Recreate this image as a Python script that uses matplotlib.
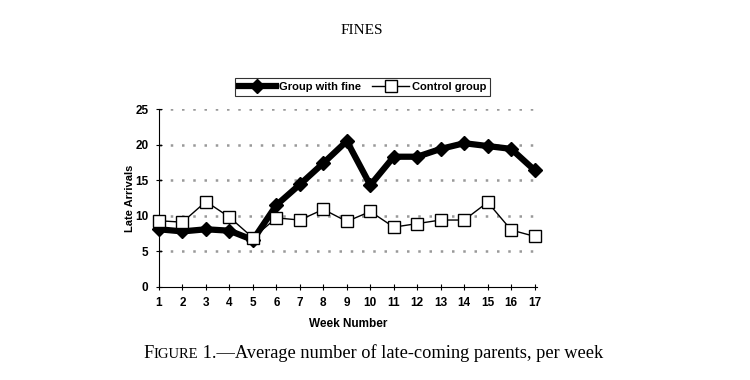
import numpy as np
import matplotlib
matplotlib.use("Agg")
import matplotlib.pyplot as plt

# weekly averages
weeks = list(range(1, 18))
fine_group = [8.1, 7.8, 8.1, 7.9, 6.6, 11.5, 14.4, 17.4, 20.5, 14.3,
              18.3, 18.3, 19.4, 20.2, 19.8, 19.4, 16.4]
control_group = [9.3, 9.1, 12.0, 9.8, 6.9, 9.7, 9.4, 10.9, 9.2, 10.6,
                 8.4, 8.9, 9.4, 9.4, 11.9, 8.0, 7.1]
y_ticks = [0, 5, 10, 15, 20, 25]

sans = "Liberation Sans"
serif = "Liberation Serif"

fig = plt.figure(figsize=(7.5, 3.8), dpi=100)
ax = fig.add_axes([0.212, 0.245, 0.504, 0.468])

ax.plot(weeks, fine_group, color="black", lw=4.5, marker="D", ms=7.5,
        mfc="black", mec="black", label="Group with fine", zorder=3, clip_on=False)
ax.plot(weeks, control_group, color="black", lw=1, marker="s", ms=9,
        mfc="white", mec="black", mew=1, label="Control group", zorder=4, clip_on=False)

ax.set_xlim(1, 17.1)
ax.set_ylim(0, 25)
ax.set_xticks(weeks)
ax.set_yticks(y_ticks)
for t in ax.get_xticklabels() + ax.get_yticklabels():
    t.set_fontfamily(sans)
    t.set_fontweight("bold")
    t.set_fontsize(8.5)
ax.tick_params(direction="inout", length=5, width=0.8, pad=5)

for v in y_ticks[1:]:
    ax.axhline(v, color="#999999", lw=1.8, ls=(0, (1, 3.5)), zorder=1)

for s in ["top", "right"]:
    ax.spines[s].set_visible(False)
for s in ["left", "bottom"]:
    ax.spines[s].set_linewidth(0.8)

ax.set_xlabel("Week Number", fontfamily=sans, fontweight="bold", fontsize=8.5, labelpad=6)
ax.set_ylabel("Late Arrivals", fontfamily=sans, fontweight="bold", fontsize=8, labelpad=0)

leg = fig.legend(loc="center", ncol=2, frameon=True,
                 fancybox=False, edgecolor="black", handlelength=3.4,
                 handletextpad=0.2, columnspacing=1.0, borderpad=0.35,
                 prop={"family": sans, "weight": "bold", "size": 8})
leg.set_bbox_to_anchor((0.483, 0.772), transform=fig.transFigure)
leg.get_frame().set_linewidth(0.8)

fig.text(362 / 750, 0.92, "FINES", ha="center", va="center", fontfamily=serif, fontsize=11)

# caption with small caps "Figure"
fig.canvas.draw()
r = fig.canvas.get_renderer()
x0, yb = 143, 380 - 358
parts = [("F", 13.2), ("IGURE", 10.5), (" 1.\u2014Average number of late-coming parents, per week", 13.2)]
for txt, size in parts:
    t = fig.text(x0 / 750, yb / 380, txt, ha="left", va="baseline",
                 fontfamily=serif, fontsize=size)
    x0 = t.get_window_extent(renderer=r).x1

fig.savefig("out.png", dpi=100, facecolor="white")
